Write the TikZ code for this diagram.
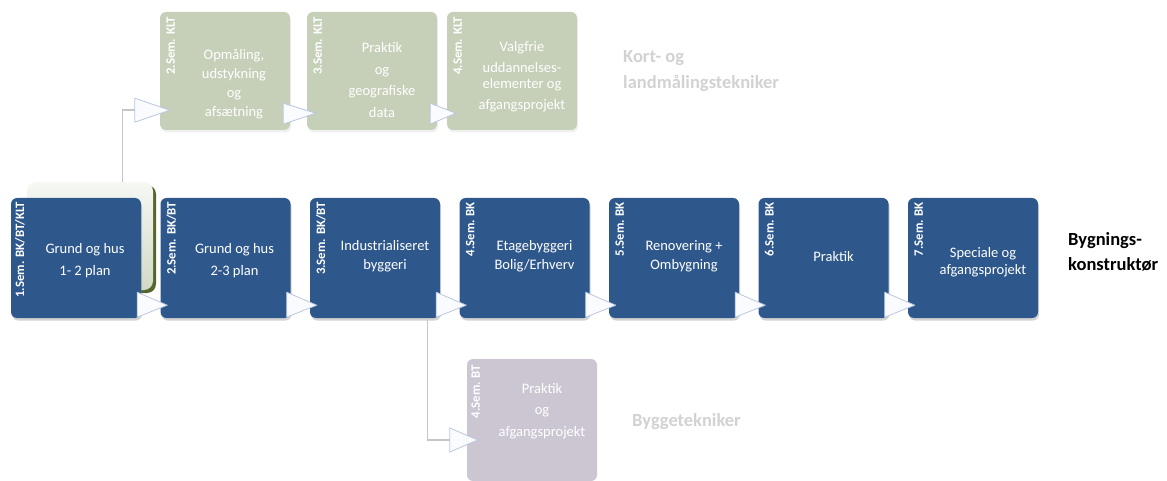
\documentclass[tikz,border=0pt]{standalone}
\usepackage{fontspec}
\setmainfont{Carlito}
\usetikzlibrary{shadows}

\definecolor{bkblue}{RGB}{46,88,140}
\definecolor{kltgreen}{RGB}{198,208,184}
\definecolor{kltdark}{RGB}{84,102,44}
\definecolor{btgrey}{RGB}{204,198,211}
\definecolor{fadegrey}{RGB}{210,210,212}
\definecolor{trifill}{RGB}{250,251,254}
\definecolor{triline}{RGB}{184,198,222}
\definecolor{linkgrey}{RGB}{198,198,200}

\tikzset{
  bk/.style={rectangle,rounded corners=6pt,minimum width=130pt,minimum height=120pt,fill=bkblue,
    drop shadow={opacity=.35,shadow xshift=1pt,shadow yshift=-2.5pt}},
  klt/.style={rectangle,rounded corners=6pt,minimum width=130pt,minimum height=118pt,fill=kltgreen,
    drop shadow={opacity=.12,shadow xshift=1pt,shadow yshift=-2.5pt}},
  bt/.style={rectangle,rounded corners=6pt,minimum width=130pt,minimum height=122pt,fill=btgrey},
  sem/.style={rotate=90,anchor=east,inner sep=0pt,text=white,font=\bfseries\fontsize{12.8}{12.8}\selectfont},
  txt/.style={text=white,align=center,inner sep=0pt,font=\fontsize{14.5}{19}\selectfont},
  tri/.style={fill=trifill,draw=triline,line width=.8pt,line join=round},
  link/.style={draw=linkgrey,line width=1.4pt},
  track/.style={anchor=west,align=left,inner sep=0pt,font=\bfseries\fontsize{18.5}{26}\selectfont}
}

\begin{document}
\begin{tikzpicture}[x=1pt,y=-1pt]
\useasboundingbox (0,0) rectangle (1167,481);

% faded box behind 1st semester
\fill[kltdark,rounded corners=9pt] (30,185) rectangle (156,293);
\node[rectangle,rounded corners=9pt,minimum width=126pt,minimum height=108pt,
  top color=white!85!kltgreen,bottom color=kltgreen!80!white] (g0) at (90,236) {};

% KLT
\node[klt] (k1) at (225,71) {};
\node[klt] (k2) at (372,71) {};
\node[klt] (k3) at (512,71) {};
\node[sem] at ([xshift=11pt,yshift=-5pt]k1.north west) {2.Sem. KLT};
\node[sem] at ([xshift=11pt,yshift=-5pt]k2.north west) {3.Sem. KLT};
\node[sem] at ([xshift=11pt,yshift=-5pt]k3.north west) {4.Sem. KLT};
\node[txt] (n8) at (234,84) {Opmåling,\\udstykning\\og\\afsætning};
\node[txt,font=\fontsize{14.5}{21.5}\selectfont] (n9) at (382,80) {Praktik\\og\\geografiske\\data};
\node[txt] (n10) at (522,77) {Valgfrie\\[2pt]uddannelses-\\[-3pt]elementer og\\[2pt]afgangsprojekt};

\coordinate (ta) at ([xshift=-25pt,yshift=20pt]k1.south west);
\draw[link] ([xshift=-31pt]g0.north east) |- (ta);
\draw[tri] ([yshift=12pt]ta) -- ([yshift=-12pt]ta) -- ([xshift=10pt,yshift=20pt]k1.south west) -- cycle;
\draw[tri] ([xshift=-7pt,yshift=6pt]k1.south east) -- ([xshift=-7pt,yshift=27pt]k1.south east)
  -- ([xshift=9pt,yshift=17pt]k2.south west) -- cycle;
\draw[tri] ([xshift=-7pt,yshift=6pt]k2.south east) -- ([xshift=-7pt,yshift=27pt]k2.south east)
  -- ([xshift=9pt,yshift=17pt]k3.south west) -- cycle;

% BK
\foreach \i in {1,...,7}{
  \node[bk] (b\i) at (76+149.5*\i-149.5,258) {};
}
\node[sem] at ([xshift=9pt,yshift=-4pt]b1.north west) {1.Sem. BK/BT/KLT};
\node[sem] at ([xshift=11pt,yshift=-4pt]b2.north west) {2.Sem. BK/BT};
\node[sem] at ([xshift=11pt,yshift=-4pt]b3.north west) {3.Sem. BK/BT};
\node[sem] at ([xshift=11pt,yshift=-4pt]b4.north west) {4.Sem. BK};
\node[sem] at ([xshift=11pt,yshift=-4pt]b5.north west) {5.Sem. BK};
\node[sem] at ([xshift=11pt,yshift=-4pt]b6.north west) {6.Sem. BK};
\node[sem] at ([xshift=11pt,yshift=-4pt]b7.north west) {7.Sem. BK};
\node[txt] (n1) at ([xshift=9pt,yshift=-3pt]b1.center) {Grund og hus\\[3pt]1- 2 plan};
\node[txt] (n2) at ([xshift=9pt,yshift=-3pt]b2.center) {Grund og hus\\[3pt]2-3 plan};
\node[txt] (n3) at ([xshift=10pt,yshift=2pt]b3.center) {Industrialiseret\\byggeri};
\node[txt] (n4) at ([xshift=10pt,yshift=2pt]b4.center) {Etagebyggeri\\Bolig/Erhverv};
\node[txt] (n5) at ([xshift=10pt,yshift=2pt]b5.center) {Renovering +\\Ombygning};
\node[txt] (n6) at ([xshift=10pt,yshift=1pt]b6.center) {Praktik};
\node[txt] (n7) at ([xshift=10pt,yshift=-4pt]b7.center) {Speciale og\\[-2pt]afgangsprojekt};

\foreach \i in {1,...,6}{
  \pgfmathtruncatemacro\j{\i+1}
  \draw[tri] ([xshift=-4pt,yshift=1pt]b\i.south east) -- ([xshift=-4pt,yshift=26pt]b\i.south east)
    -- ([xshift=7pt,yshift=13pt]b\j.south west) -- cycle;
}

% BT
\node[bt] (t1) at (532,420) {};
\node[sem] at ([xshift=9pt,yshift=-6pt]t1.north west) {4.Sem. BT};
\node[txt,font=\fontsize{14.5}{21.5}\selectfont] (n11) at ([xshift=10pt,yshift=9pt]t1.center) {Praktik\\og\\afgangsprojekt};
\coordinate (tb) at ([xshift=-17pt,yshift=-20pt]t1.west);
\draw[link] ([xshift=-13pt]b3.south east) |- (tb);
\draw[tri] ([yshift=12pt]tb) -- ([yshift=-12pt]tb) -- ([xshift=11pt,yshift=-20pt]t1.west) -- cycle;

% retninger
\node[track,text=fadegrey] (klt) at (623,71.5) {Kort- og\\landmålingstekniker};
\node[track,text=fadegrey] (btt) at (632,422) {Byggetekniker};
\node[track,font=\bfseries\fontsize{18.5}{25}\selectfont] (bkt) at (1068,252) {Bygnings-\\konstruktør};
\end{tikzpicture}
\end{document}
